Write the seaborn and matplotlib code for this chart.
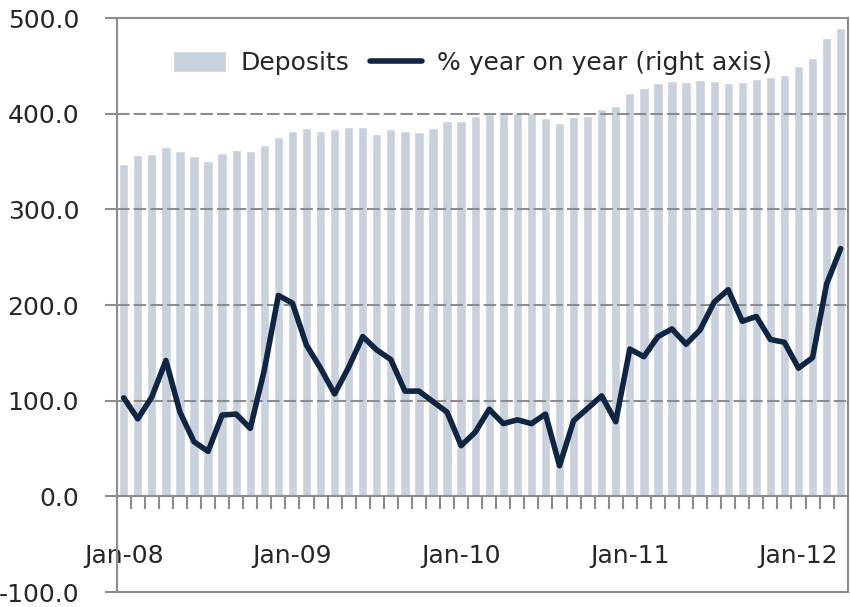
import numpy as np
import pandas as pd
import matplotlib
matplotlib.use('Agg')
import matplotlib.pyplot as plt
from matplotlib.ticker import FixedLocator, FormatStrFormatter
import seaborn as sns

# monthly values, Jan-08 .. Apr-12
meses = pd.date_range('2008-01-01', periods=52, freq='MS').strftime('%b-%y')
depositos = [347, 357, 358, 365, 361, 356, 351, 359, 362, 361, 367, 376,
             382, 385, 382, 384, 386, 386, 379, 384, 382, 381, 385, 392,
             392, 398, 400, 400, 401, 401, 395, 390, 397, 398, 405, 408,
             422, 427, 432, 434, 433, 435, 434, 432, 433, 436, 438, 440,
             450, 458, 479, 490]
variacao = [103, 81, 104, 142, 88, 57, 47, 85, 86, 71, 132, 210,
            202, 158, 134, 107, 135, 167, 153, 143, 110, 110, 99, 88,
            53, 67, 91, 76, 80, 76, 86, 32, 79, 92, 105, 78,
            154, 146, 167, 175, 159, 174, 203, 216, 183, 188, 164, 161,
            134, 145, 222, 259]
rotulos_x = ['Jan-08', 'Jan-09', 'Jan-10', 'Jan-11', 'Jan-12']

df = pd.DataFrame({'mes': meses, 'pos': np.arange(len(meses)),
                   'depositos': depositos, 'variacao': variacao})

sns.set_style('white')
plt.rcParams['font.family'] = ['DejaVu Sans']

cinza = '#8c8c8c'
fig = plt.figure(figsize=(8.5, 6.07), dpi=100)
ax = fig.add_axes([0.1373, 0.0247, 0.86, 0.9456])

sns.barplot(data=df, x='pos', y='depositos', color='#c9d1dd', saturation=1,
            width=0.66, ax=ax, label='Deposits', zorder=1)
sns.lineplot(data=df, x='pos', y='variacao', color='#0f2542', linewidth=4,
             ax=ax, label='% year on year (right axis)', zorder=4,
             solid_capstyle='round', solid_joinstyle='round')

ax.set_xlim(-0.5, len(meses) - 0.5)
ax.set_ylim(-100, 500)
ax.set_yticks(np.arange(-100, 501, 100))
ax.yaxis.set_major_formatter(FormatStrFormatter('%.1f'))
for v in [100, 200, 300, 400]:
    ax.axhline(v, color=cinza, lw=1.5, dashes=(6, 2), zorder=2)
ax.axhline(-100, color=cinza, lw=1.5, clip_on=False, zorder=2)

for lado in ['left', 'right', 'top', 'bottom']:
    ax.spines[lado].set_color(cinza)
    ax.spines[lado].set_linewidth(1.5)
ax.spines['bottom'].set_position(('data', 0))
ax.spines['bottom'].set_zorder(3)

ax.xaxis.set_major_locator(FixedLocator([list(meses).index(r) for r in rotulos_x]))
ax.set_xticklabels(rotulos_x)
ax.xaxis.set_minor_locator(FixedLocator(np.arange(0.5, len(meses) - 1, 1)))
ax.tick_params(axis='x', which='major', length=0, pad=34, labelsize=18)
ax.tick_params(axis='x', which='minor', length=9, width=1.5, color=cinza,
               direction='out', bottom=True)
ax.tick_params(axis='y', length=9, width=1.5, color=cinza, direction='out',
               pad=18, labelsize=18, left=True)
ax.set_xlabel('')
ax.set_ylabel('')

# Deposits first in the legend
handles, labels = ax.get_legend_handles_labels()
ordem = [labels.index('Deposits'), labels.index('% year on year (right axis)')]
ax.legend([handles[i] for i in ordem], [labels[i] for i in ordem],
          loc='center', bbox_to_anchor=(0.487, 0.921), ncol=2, frameon=False,
          fontsize=18, handlelength=2.1, handleheight=0.9, handletextpad=0.6,
          columnspacing=0.8)

plt.savefig('out.png', dpi=100)
